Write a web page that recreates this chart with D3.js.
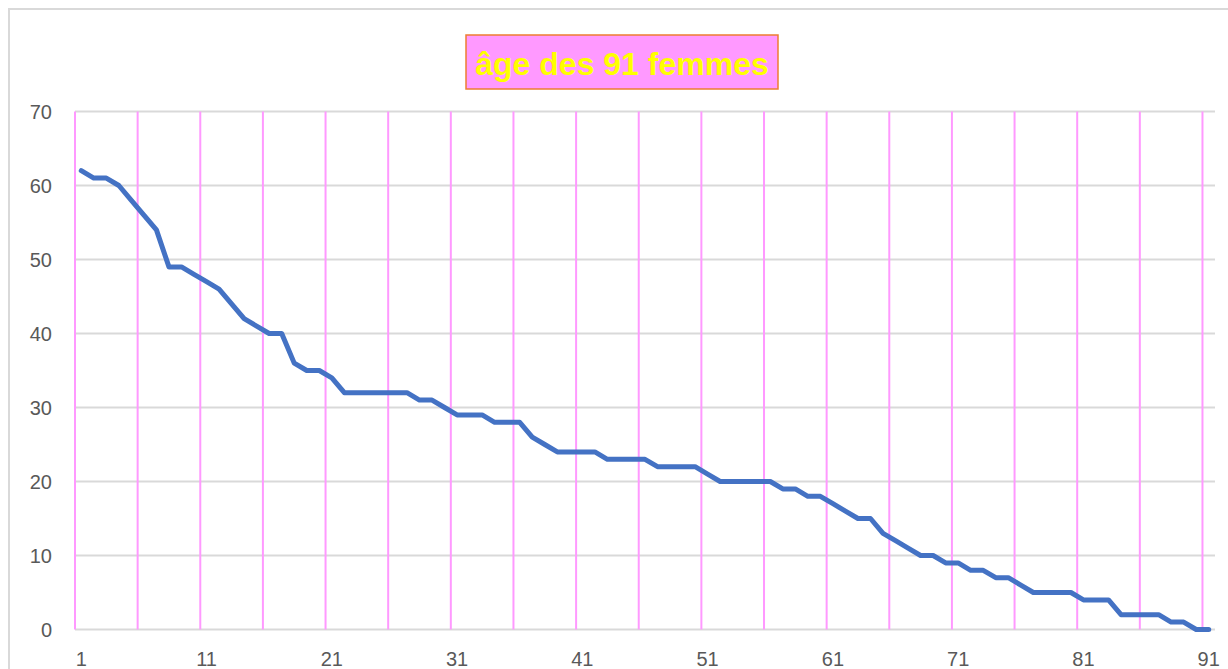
<!DOCTYPE html>
<html>
  <head>
    <meta charset="utf-8">
    <script src="https://d3js.org/d3.v7.min.js"></script>
    <style>
      body { margin: 0; background: #fff; }
      text { font-family: "Liberation Sans", Arial, sans-serif; }
    </style>
  </head>
  <body>
    <svg id="chart" width="1228" height="669"></svg>
    <script>
    // data: age of each of the 91 women, sorted
    const rangs = d3.range(1, 92);
    const ages = [62, 61, 61, 60, 58, 56, 54, 49, 49, 48,
                  47, 46, 44, 42, 41, 40, 40, 36, 35, 35,
                  34, 32, 32, 32, 32, 32, 32, 31, 31, 30,
                  29, 29, 29, 28, 28, 28, 26, 25, 24, 24,
                  24, 24, 23, 23, 23, 23, 22, 22, 22, 22,
                  21, 20, 20, 20, 20, 20, 19, 19, 18, 18,
                  17, 16, 15, 15, 13, 12, 11, 10, 10, 9,
                  9, 8, 8, 7, 7, 6, 5, 5, 5, 5,
                  4, 4, 4, 2, 2, 2, 2, 1, 1, 0,
                  0];
    const yTicks = [0, 10, 20, 30, 40, 50, 60, 70];
    const xLabels = [1, 11, 21, 31, 41, 51, 61, 71, 81, 91];
    const vGrid = [1, 6, 11, 16, 21, 26, 31, 36, 41, 46, 51, 56, 61, 66, 71, 76, 81, 86, 91];
    const titre = "âge des 91 femmes";

    const svg = d3.select("#chart");

    // outer chart border (right and bottom sides fall outside the window)
    svg.append("rect")
      .attr("x", 9).attr("y", 9)
      .attr("width", 1240).attr("height", 700)
      .attr("fill", "none")
      .attr("stroke", "#d9d9d9")
      .attr("stroke-width", 2);

    const x = d3.scaleBand().domain(rangs).range([75, 1215]).padding(0);
    const y = d3.scaleLinear().domain([0, 70]).range([629.5, 111.5]);
    const cx = d => x(d) + x.bandwidth() / 2;

    // horizontal grid
    svg.append("g").selectAll("line").data(yTicks).enter().append("line")
      .attr("x1", 75).attr("x2", 1215)
      .attr("y1", d => y(d)).attr("y2", d => y(d))
      .attr("stroke", "#d9d9d9")
      .attr("stroke-width", 2);

    // vertical pink grid, every 5 categories
    svg.append("g").selectAll("line").data(vGrid).enter().append("line")
      .attr("x1", d => x(d)).attr("x2", d => x(d))
      .attr("y1", y(70)).attr("y2", y(0))
      .attr("stroke", "#ff99ff")
      .attr("stroke-width", 2);

    // y labels
    svg.append("g").selectAll("text").data(yTicks).enter().append("text")
      .attr("x", 52)
      .attr("y", d => y(d) + 7)
      .attr("text-anchor", "end")
      .attr("font-size", 20)
      .attr("fill", "#595959")
      .text(d => d);

    // x labels
    svg.append("g").selectAll("text").data(xLabels).enter().append("text")
      .attr("x", d => cx(d))
      .attr("y", 666)
      .attr("text-anchor", "middle")
      .attr("font-size", 20)
      .attr("fill", "#595959")
      .text(d => d);

    // the line
    const line = d3.line()
      .x((d, i) => cx(rangs[i]))
      .y(d => y(d));
    svg.append("path")
      .datum(ages)
      .attr("d", line)
      .attr("fill", "none")
      .attr("stroke", "#4472c4")
      .attr("stroke-width", 5)
      .attr("stroke-linejoin", "round")
      .attr("stroke-linecap", "round");

    // title box
    svg.append("rect")
      .attr("x", 466).attr("y", 35)
      .attr("width", 312).attr("height", 54)
      .attr("fill", "#ff99ff")
      .attr("stroke", "#ed7d31")
      .attr("stroke-width", 1.5);
    svg.append("text")
      .attr("x", 622).attr("y", 75)
      .attr("text-anchor", "middle")
      .attr("font-size", 32)
      .attr("font-weight", "bold")
      .attr("fill", "#ffff00")
      .text(titre);
    </script>
  </body>
</html>
